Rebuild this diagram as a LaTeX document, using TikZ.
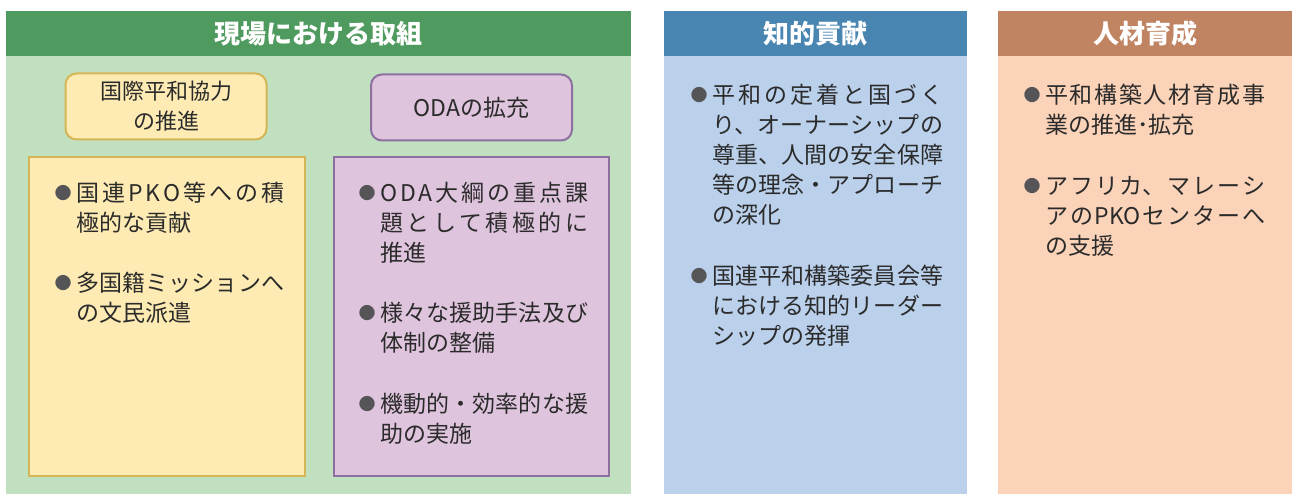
\documentclass[tikz,border=0pt]{standalone}
\usepackage{fontspec}
\setmainfont{Noto Sans CJK JP}
\XeTeXlinebreaklocale "ja"
\XeTeXlinebreakskip=0pt plus 8pt
\hbadness=10000 \vbadness=10000 \hfuzz=8pt
\setlength{\parindent}{0pt}
\definecolor{ghead}{HTML}{4F9A5F}
\definecolor{gbody}{HTML}{C1E0C0}
\definecolor{bhead}{HTML}{4886B1}
\definecolor{bbody}{HTML}{BAD0EB}
\definecolor{ohead}{HTML}{C08463}
\definecolor{obody}{HTML}{FBD3B9}
\definecolor{yfill}{HTML}{FEEBB3}
\definecolor{yline}{HTML}{D4B657}
\definecolor{pfill}{HTML}{DFC4DD}
\definecolor{pline}{HTML}{8E70A0}
\definecolor{txt}{HTML}{2B2B2B}
\definecolor{bulc}{HTML}{555558}
\newcommand{\bl}{\llap{\raisebox{2pt}{\textcolor{bulc}{\fontsize{17}{17}\selectfont ●}}\kern4.5pt}}
\newcommand{\ls}{\nobreak\hskip 0pt plus 8pt\relax}
\begin{document}
\begin{tikzpicture}[x=1pt,y=-1pt,
  hdr/.style={font=\fontsize{26}{30}\selectfont\bfseries, text=white, inner sep=0pt},
  item/.style={anchor=north west, inner sep=0pt, align=justify, text=txt,
    font=\fontsize{23}{30}\selectfont},
  tag/.style={draw, line width=2pt, rounded corners=11pt, text=txt, align=center,
    font=\fontsize{22}{30}\selectfont, inner sep=0pt},
  panel/.style={line width=2.5pt}]
\useasboundingbox (0,0) rectangle (1292,494);
\fill[white] (0,0) rectangle (1292,494);
% green column
\fill[gbody] (6,55) rectangle (631,494);
\fill[ghead] (6,11) rectangle (631,56);
\node[hdr] (h1) at (318.5,33.5) {現場における取組};
% blue column
\fill[bbody] (664,55) rectangle (967,494);
\fill[bhead] (664,11) rectangle (967,56);
\node[hdr] (h2) at (815.5,33.5) {知的貢献};
% orange column
\fill[obody] (998,55) rectangle (1292,494);
\fill[ohead] (998,11) rectangle (1292,56);
\node[hdr] (h3) at (1145,33.5) {人材育成};
% tags
\node[tag, draw=yline, fill=yfill, minimum width=201pt, minimum height=66pt] (t1) at (166,106.5) {国際平和協力\\の推進};
\node[tag, draw=pline, fill=pfill, minimum width=201pt, minimum height=66pt, font=\fontsize{23}{30}\selectfont] (t2) at (471.5,107.5) {ODAの拡充};
% panels
\filldraw[panel, draw=yline, fill=yfill] (29,157) rectangle (305,476);
\filldraw[panel, draw=pline, fill=pfill] (334,157) rectangle (609,476);
% yellow items
\node[item, text width=208pt] (y1) at (76,180) {\strut\bl 国連P\ls K\ls O等への積\linebreak 極的な貢献};
\node[item, text width=208pt] (y2) at (76,270) {\strut\bl 多国籍ミッションへ\linebreak の文民派遣};
% purple items
\node[item, text width=208pt] (p1) at (380,180) {\strut\bl O\ls D\ls A大綱の重点課\linebreak 題として積極的に\linebreak 推進};
\node[item, text width=208pt] (p2) at (380,300) {\strut\bl 様々な援助手法及び\linebreak 体制の整備};
\node[item, text width=208pt] (p3) at (380,391) {\strut\bl 機動的・効率的な援\linebreak 助の実施};
% blue items
\node[item, text width=231pt] (b1) at (712,82) {\strut\bl 平和の定着と国づく\linebreak り、オーナーシップの\linebreak 尊重、人間の安全保障\linebreak 等の理念・アプローチ\linebreak の深化};
\node[item, text width=231pt] (b2) at (712,263) {\strut\bl 国連平和構築委員会等\linebreak における知的リーダー\linebreak シップの発揮};
% orange items
\node[item, text width=220pt] (o1) at (1045,82) {\strut\bl 平和構築人材育成事\linebreak 業の推進･拡充};
\node[item, text width=220pt] (o2) at (1045,173) {\strut\bl アフリカ、マレーシ\linebreak アのPKOセンターへ\linebreak の支援};
\end{tikzpicture}
\end{document}
